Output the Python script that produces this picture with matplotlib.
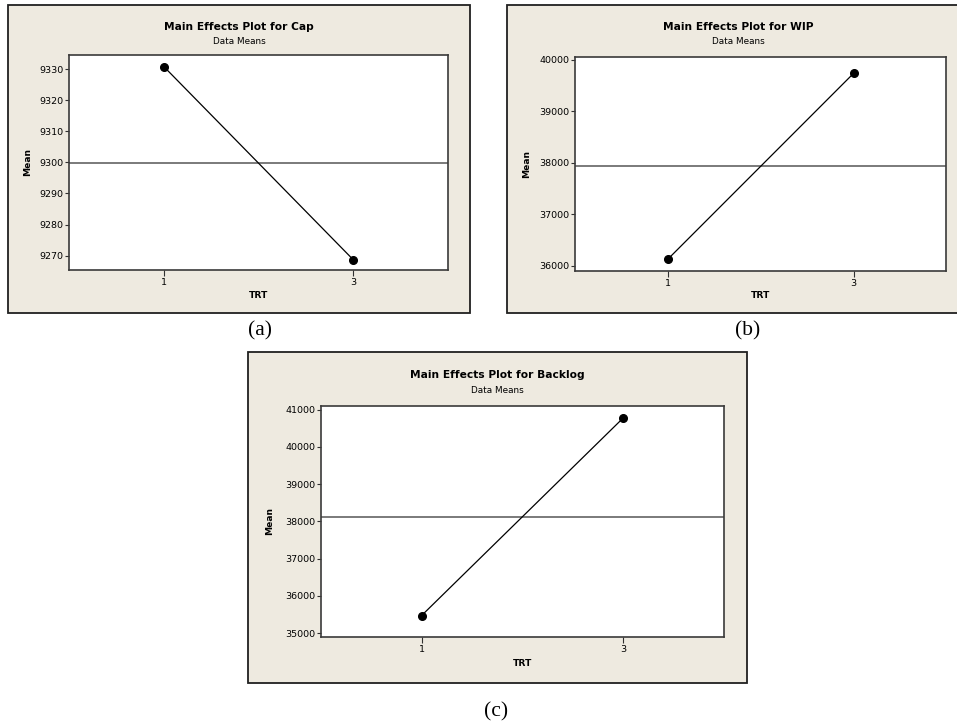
import matplotlib
matplotlib.use("Agg")
import matplotlib.pyplot as plt
import numpy as np
from matplotlib.patches import Rectangle

# factor levels and level means for each response
trt_levels = [1, 3]
cap_means = [9330.8, 9268.7]
wip_means = [36129, 39735]
backlog_means = [35472, 40769]

responses = ["Cap", "WIP", "Backlog"]
panel_tags = ["(a)", "(b)", "(c)"]
cap_ticks = [9270, 9280, 9290, 9300, 9310, 9320, 9330]
wip_ticks = [36000, 37000, 38000, 39000, 40000]
backlog_ticks = [35000, 36000, 37000, 38000, 39000, 40000, 41000]

W, H = 957, 727
BG = "#EEEAE0"
plt.rcParams["font.family"] = ["DejaVu Sans"]

fig = plt.figure(figsize=(W / 100, H / 100), dpi=100)


def fx(x):
    return x / W


def fy(y):
    return 1 - y / H


# layout in pixels: frame box, axes box, title y, xlabel y, ylabel x, ylim, tag pos
panels = [
    dict(box=(8, 5, 470, 313), ax=(69, 55, 448, 270), ty=27, sy=41, xly=295,
         ylx=28, ylim=(9265.4, 9334.5), means=cap_means, ticks=cap_ticks,
         tagpos=(260, 331)),
    dict(box=(507, 5, 969, 313), ax=(575, 57, 946.5, 270.5), ty=27, sy=41, xly=295,
         ylx=527, ylim=(35909, 40051), means=wip_means, ticks=wip_ticks,
         tagpos=(748, 331)),
    dict(box=(248, 352, 746.5, 682.5), ax=(321, 406, 723.5, 636.5), ty=375, sy=390,
         xly=664, ylx=270, ylim=(34909, 41099), means=backlog_means,
         ticks=backlog_ticks, tagpos=(496, 712)),
]

for name, tag, p in zip(responses, panel_tags, panels):
    x0, y0, x1, y1 = p["box"]
    fig.patches.append(Rectangle((fx(x0), fy(y1)), fx(x1 - x0), (y1 - y0) / H,
                                 transform=fig.transFigure, facecolor=BG,
                                 edgecolor="#202020", linewidth=1.3, zorder=-5))
    cx = (x0 + x1) / 2
    fig.text(fx(cx), fy(p["ty"]), f"Main Effects Plot for {name}", ha="center",
             va="center", fontsize=7.7, fontweight="bold")
    fig.text(fx(cx), fy(p["sy"]), "Data Means", ha="center", va="center",
             fontsize=6.4)

    a0, b0, a1, b1 = p["ax"]
    ax = fig.add_axes([fx(a0), fy(b1), fx(a1 - a0), (b1 - b0) / H])
    ax.set_facecolor("white")
    means = p["means"]
    ax.axhline(np.mean(means), color="#7a7a7a", lw=1.4, zorder=1)
    ax.plot(trt_levels, means, color="black", lw=0.9, marker="o", ms=5.5, zorder=3)
    ax.set_xlim(0, 4)
    ax.set_ylim(*p["ylim"])
    ax.set_xticks(trt_levels)
    ax.set_yticks(p["ticks"])
    ax.tick_params(labelsize=6.8, length=3, width=0.8, pad=1, color="#303030")
    ax.tick_params(axis="x", length=4, pad=2)
    for s in ax.spines.values():
        s.set_color("#3a3a3a")
        s.set_linewidth(1.2)

    fig.text(fx((a0 + a1) / 2), fy(p["xly"]), "TRT", ha="center", va="center",
             fontsize=6.6, fontweight="bold")
    fig.text(fx(p["ylx"]), fy((b0 + b1) / 2), "Mean", ha="center", va="center",
             rotation=90, fontsize=6.6, fontweight="bold")

    tx, ty = p["tagpos"]
    fig.text(fx(tx), fy(ty), tag, ha="center", va="center", fontsize=15.5,
             family=["Liberation Serif", "DejaVu Serif"])

fig.savefig("out.png", dpi=100, facecolor="white")
